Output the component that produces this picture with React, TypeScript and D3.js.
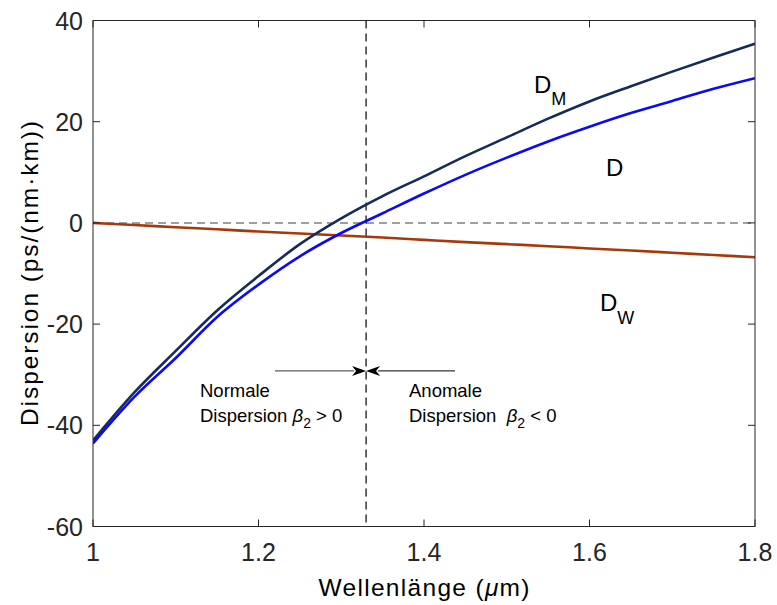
import React from "react";
import * as d3 from "d3";

// Wavelength grid in µm
const wavelengths = [1.0, 1.05, 1.1, 1.15, 1.2, 1.25, 1.3, 1.35, 1.4, 1.45, 1.5, 1.55, 1.6, 1.65, 1.7, 1.75, 1.8];
// Material dispersion D_M in ps/(nm·km)
const materialDispersion = [-43.0, -33.5, -25.3, -17.3, -10.5, -4.2, 0.9, 5.3, 9.2, 13.2, 16.9, 20.6, 24.0, 27.0, 29.9, 32.7, 35.4];
// Total dispersion D
const totalDispersion = [-43.6, -34.4, -26.7, -18.6, -12.2, -6.6, -2.0, 1.9, 5.8, 9.5, 12.9, 16.1, 19.0, 21.7, 24.1, 26.5, 28.6];
// Waveguide dispersion D_W
const waveguideDispersion = [0, -0.42, -0.85, -1.27, -1.7, -2.1, -2.5, -2.9, -3.35, -3.8, -4.2, -4.6, -5.05, -5.45, -5.9, -6.35, -6.8];

const xTicks = [1, 1.2, 1.4, 1.6, 1.8];
const yTicks = [40, 20, 0, -20, -40, -60];
const zeroDispersionWavelength = 1.33;

const W = 777;
const H = 605;
const margin = { left: 93, right: 22, top: 20.5, bottom: 78.5 };
const font = "'Liberation Sans', Arial, Helvetica, sans-serif";
const axisColor = "#262626";

export default function App() {
  const x = d3.scaleLinear().domain([1, 1.8]).range([margin.left, W - margin.right]);
  const y = d3.scaleLinear().domain([-60, 40]).range([H - margin.bottom, margin.top]);
  const [x0, x1] = x.range();
  const [yb, yt] = y.range();

  const line = (vals: number[]) =>
    d3
      .line<number>()
      .x((_, i) => x(wavelengths[i]))
      .y((v) => y(v))
      .curve(d3.curveMonotoneX)(vals) || "";

  const tickLen = 7;
  const xz = x(zeroDispersionWavelength);
  const arrowY = y(-29.25);

  return (
    <div style={{ position: "fixed", left: 0, top: 0 }}>
      <svg width={W} height={H} style={{ display: "block", background: "#fff" }} fontFamily={font}>
        <defs>
          <clipPath id="plotArea">
            <rect x={x0} y={yt} width={x1 - x0} height={yb - yt} />
          </clipPath>
        </defs>

        {/* reference lines */}
        <line x1={x0} x2={x1} y1={y(0)} y2={y(0)} stroke="#808080" strokeWidth={1.5} strokeDasharray="8,5" />
        <line x1={xz} x2={xz} y1={yt} y2={yb} stroke="#000" strokeWidth={1.2} strokeDasharray="8,5" />

        {/* curves */}
        <g clipPath="url(#plotArea)" fill="none" strokeWidth={2.6} strokeLinejoin="round">
          <path d={line(waveguideDispersion)} stroke="#a5390b" />
          <path d={line(materialDispersion)} stroke="#162a5c" />
          <path d={line(totalDispersion)} stroke="#0a0af5" />
        </g>

        {/* axes box */}
        <rect x={x0} y={yt} width={x1 - x0} height={yb - yt} fill="none" stroke={axisColor} strokeWidth={1} />
        {xTicks.map((t) => (
          <g key={"x" + t}>
            <line x1={x(t)} x2={x(t)} y1={yb} y2={yb - tickLen} stroke={axisColor} />
            <line x1={x(t)} x2={x(t)} y1={yt} y2={yt + tickLen} stroke={axisColor} />
            <text x={x(t)} y={561} textAnchor="middle" fontSize={25} fill={axisColor}>
              {t}
            </text>
          </g>
        ))}
        {yTicks.map((t) => (
          <g key={"y" + t}>
            <line x1={x0} x2={x0 + tickLen} y1={y(t)} y2={y(t)} stroke={axisColor} />
            <line x1={x1} x2={x1 - tickLen} y1={y(t)} y2={y(t)} stroke={axisColor} />
            <text x={83} y={y(t) + 9} textAnchor="end" fontSize={25} fill={axisColor}>
              {t}
            </text>
          </g>
        ))}

        {/* axis titles */}
        <text
          x={(x0 + x1) / 2}
          y={596}
          textAnchor="middle"
          fontSize={24.5}
          fill="#000"
          textLength={211}
          lengthAdjust="spacing"
        >
          Wellenlänge (<tspan fontStyle="italic">μ</tspan>m)
        </text>
        <text
          transform={`translate(38,${(yt + yb) / 2}) rotate(-90)`}
          textAnchor="middle"
          fontSize={24.5}
          fill="#000"
          textLength={305}
          lengthAdjust="spacing"
        >
          Dispersion (ps/(nm·km))
        </text>

        {/* curve labels */}
        <text x={534} y={93} fontSize={24} fill="#000">
          D<tspan fontSize={18} dy={12}>M</tspan>
        </text>
        <text x={606} y={176} fontSize={24} fill="#000">
          D
        </text>
        <text x={600} y={311} fontSize={24} fill="#000">
          D<tspan fontSize={18} dy={13}>W</tspan>
        </text>

        {/* regime arrows */}
        <line x1={275} x2={xz - 12} y1={arrowY} y2={arrowY} stroke="#333" strokeWidth={1} />
        <path d={`M${xz},${arrowY} L${xz - 14},${arrowY - 5} L${xz - 10},${arrowY} L${xz - 14},${arrowY + 5} Z`} fill="#000" />
        <line x1={xz + 12} x2={455} y1={arrowY} y2={arrowY} stroke="#000" strokeWidth={1} />
        <path d={`M${xz},${arrowY} L${xz + 14},${arrowY - 5} L${xz + 10},${arrowY} L${xz + 14},${arrowY + 5} Z`} fill="#000" />

        {/* regime labels */}
        <text x={200} y={397} fontSize={18.5} fill="#000">
          Normale
        </text>
        <text x={200} y={421.5} fontSize={18.5} fill="#000">
          Dispersion <tspan fontStyle="italic">β</tspan>
          <tspan fontSize={14} dy={6}>2</tspan>
          <tspan dy={-6}> &gt; 0</tspan>
        </text>
        <text x={409} y={397} fontSize={18.5} fill="#000">
          Anomale
        </text>
        <text x={409} y={421.5} fontSize={18.5} fill="#000" xmlSpace="preserve">
          Dispersion  <tspan fontStyle="italic">β</tspan>
          <tspan fontSize={14} dy={6}>2</tspan>
          <tspan dy={-6}> &lt; 0</tspan>
        </text>
      </svg>
    </div>
  );
}
